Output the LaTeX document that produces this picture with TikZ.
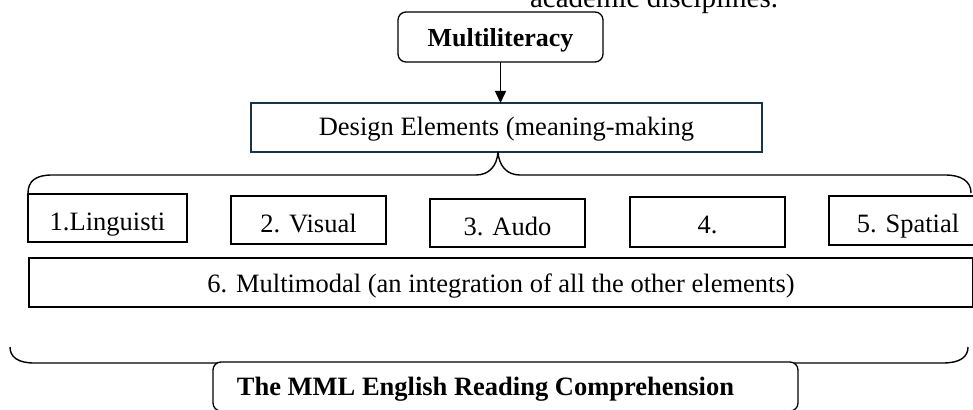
\documentclass[tikz,border=0pt]{standalone}
\usepackage{fontspec}
\setmainfont{Liberation Serif}
\usetikzlibrary{arrows.meta}
\definecolor{navyline}{RGB}{24,52,72}
\begin{document}
\begin{tikzpicture}[x=1pt,y=-1pt,
  every node/.style={inner sep=0pt, outer sep=0pt},
  txt/.style={font=\fontsize{26.5}{30}\selectfont},
  boldtxt/.style={font=\fontsize{26}{30}\selectfont\bfseries},
  elembox/.style={draw=black, line width=1.6pt, anchor=north west, txt, align=center},
  roundbox/.style={draw=black, line width=1.3pt, rounded corners=8pt, anchor=north west, boldtxt, fill=white},
  brace/.style={draw=black, line width=1.4pt, line join=round}
]
\useasboundingbox (0,0) rectangle (973,409);

% clipped caption text at the top
\node[anchor=base west, font=\fontsize{29}{32}\selectfont] (acad) at (530,8) {academic disciplines.};

% Multiliteracy
\node[roundbox, minimum width=205pt, minimum height=50pt, text height=20pt, text depth=0pt] (multi) at (398,12) {Multiliteracy};

% Design elements
\node[draw=navyline, line width=2.4pt, anchor=north west, txt, minimum width=511pt, minimum height=49pt, text height=16pt, text depth=0pt] (design) at (251,103) {Design Elements (meaning-making};

\draw[line width=1.5pt, -{Triangle[length=12pt,width=11pt]}] (multi.south) -- (multi.south |- design.north);

% top brace
\coordinate (tb) at (498,152);
\draw[brace] (28,193) .. controls (28,181) and (36,175) .. (52,175) -- (476,175)
  .. controls (489,175) and (497,166) .. (tb)
  .. controls (499,166) and (507,175) .. (520,175) -- (945,175)
  .. controls (961,175) and (971,181) .. (971,193);

% elements
\node[elembox, minimum width=159pt, minimum height=48pt, text height=24pt, text depth=0pt] (e1) at (28,194) {1.Linguisti};
\node[elembox, minimum width=155pt, minimum height=48pt, text height=24pt, text depth=0pt] (e2) at (231,196) {2. Visual};
\node[elembox, minimum width=155pt, minimum height=48pt, text height=24pt, text depth=0pt] (e3) at (430,199) {3. Audo};
\node[elembox, minimum width=155pt, minimum height=50pt, text height=22pt, text depth=0pt] (e4) at (630,197) {4.};
\node[elembox, minimum width=158pt, minimum height=49pt, text height=23pt, text depth=0pt] (e5) at (829,196) {5. Spatial};
\node[elembox, minimum width=944pt, minimum height=49pt, text height=19pt, text depth=0pt] (e6) at (29,258) {6. Multimodal (an integration of all the other elements)};

% bottom brace
\coordinate (bb) at (492,384);
\draw[brace] (10,347) .. controls (10,357) and (18,363) .. (34,363) -- (472,363)
  .. controls (485,363) and (491,372) .. (bb)
  .. controls (493,372) and (499,363) .. (512,363) -- (943,363)
  .. controls (960,363) and (968,357) .. (968,347);

% MML
\node[roundbox, minimum width=585pt, minimum height=49pt, text height=17pt, text depth=0pt, font=\fontsize{26.5}{30}\selectfont\bfseries] (mml) at (213,362) {The MML English Reading Comprehension\hspace*{40pt}};

\end{tikzpicture}
\end{document}
